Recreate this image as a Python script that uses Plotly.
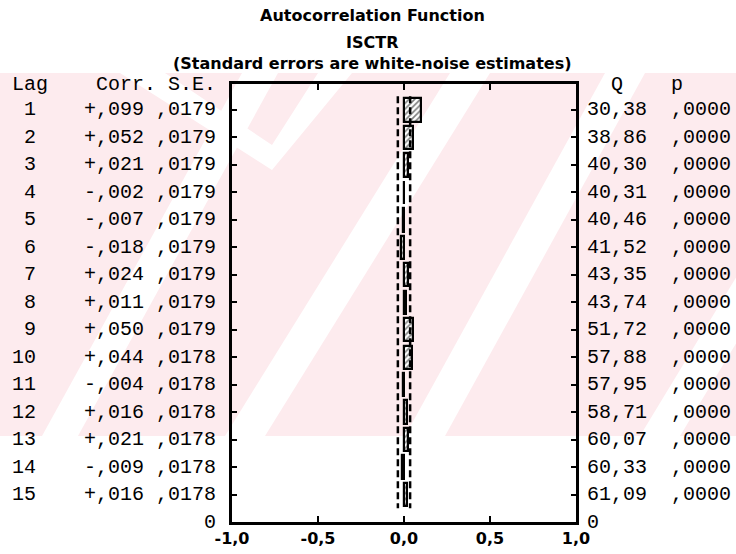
import plotly.graph_objects as go

# ---------------- data ----------------
lags = list(range(1, 16))
corr = [0.099, 0.052, 0.021, -0.002, -0.007, -0.018, 0.024, 0.011,
        0.050, 0.044, -0.004, 0.016, 0.021, -0.009, 0.016]
se = [0.0179] * 9 + [0.0178] * 6
q_stat = [30.38, 38.86, 40.30, 40.31, 40.46, 41.52, 43.35, 43.74,
          51.72, 57.88, 57.95, 58.71, 60.07, 60.33, 61.09]
p_val = [0.0] * 15
x_ticks = [-1.0, -0.5, 0.0, 0.5, 1.0]

title_lines = ["Autocorrelation Function", "ISCTR",
               "(Standard errors are white-noise estimates)"]

NB = "\u00a0"
MONO = "Liberation Mono"
SANS = "DejaVu Sans"


def fmt_corr(c):
    s = f"{abs(c):.3f}"[1:].replace(".", ",")
    return ("+" if c >= 0 else "-") + s


def fmt_dec(v, n):
    s = f"{v:.{n}f}".replace(".", ",")
    return s[1:] if s.startswith("0,") else s


left_rows = [f"{l:>2}    {fmt_corr(c)} {fmt_dec(s, 4)}".replace(" ", NB)
             for l, c, s in zip(lags, corr, se)]
right_rows = [f"{q:.2f}".replace(".", ",") + NB * 2 + fmt_dec(p, 4) for q, p in zip(q_stat, p_val)]

# ---------------- geometry helpers (pixel -> paper) ----------------
W, H = 736, 554
L, R, T, B = 232, 576, 84, 522


def px(x):
    return (x - L) / (R - L)


def py(y):
    return (B - y) / (B - T)


def poly(points):
    return "M " + " L ".join(f"{px(x):.4f},{py(y):.4f}" for x, y in points) + " Z"


fig = go.Figure()

# bars
fig.add_trace(go.Bar(
    x=corr, y=lags, orientation="h", width=0.85, base=0,
    marker=dict(color="white",
                line=dict(color="black", width=2.2),
                pattern=dict(shape="/", fgcolor="black", bgcolor="white",
                             size=4, solidity=0.4)),
    showlegend=False, hoverinfo="skip"))

# confidence limits (+/- 2 SE), drawn as steps around each lag
ys, xp, xn = [], [], []
for l, s in zip(lags, se):
    ys += [l - 0.5, l + 0.5]
    xp += [2 * s, 2 * s]
    xn += [-2 * s, -2 * s]
for xs in (xp, xn):
    fig.add_trace(go.Scatter(x=xs, y=ys, mode="lines",
                             line=dict(color="black", width=2.5, dash="7px,4px"),
                             showlegend=False, hoverinfo="skip"))

# invisible trace on right axis so it renders
fig.add_trace(go.Scatter(x=[0], y=[1], yaxis="y2", mode="markers",
                         marker=dict(opacity=0), showlegend=False, hoverinfo="skip"))

mono_font = dict(family=MONO, size=20, color="black")
ann = []
for l, t in zip(lags, left_rows):
    ann.append(dict(x=px(218), xref="paper", y=l, yref="y", text=t, showarrow=False,
                    xanchor="right", yanchor="middle", font=mono_font))
for l, t in zip(lags, right_rows):
    ann.append(dict(x=px(585), xref="paper", y=l, yref="y", text=t, showarrow=False,
                    xanchor="left", yanchor="middle", font=mono_font))
# bottom "0" labels
ann.append(dict(x=px(218), xref="paper", y=0, yref="paper", text="0", showarrow=False,
                xanchor="right", yanchor="middle", font=mono_font))
ann.append(dict(x=px(585), xref="paper", y=0, yref="paper", text="0", showarrow=False,
                xanchor="left", yanchor="middle", font=mono_font))
# headers
ann.append(dict(x=px(218), xref="paper", y=py(85), yref="paper",
                text="Lag    Corr. S.E.".replace(" ", NB), showarrow=False,
                xanchor="right", yanchor="middle", font=mono_font))
ann.append(dict(x=px(585), xref="paper", y=py(85), yref="paper",
                text="  Q    p".replace(" ", NB), showarrow=False,
                xanchor="left", yanchor="middle", font=mono_font))
# titles
for t, yy in zip(title_lines, [16, 42, 64]):
    ann.append(dict(x=px(372), xref="paper", y=py(yy), yref="paper", text=t,
                    showarrow=False, xanchor="center", yanchor="middle",
                    font=dict(family=SANS, size=16, color="black", weight="bold")))

# watermark (light pink background with white diagonal bands)
PINK = "#fdebee"
shapes = [dict(type="path", xref="paper", yref="paper", layer="below",
               path=poly([(0, 73), (W, 73), (W, 436), (0, 436)]),
               fillcolor=PINK, line=dict(width=0))]
bands = [  # (bottom-center x, top-center x, half width)
    (245, 470, 20), (425, 625, 20), (660, 880, 20), (60, 260, 18)]
for xb, xt, hw in bands:
    shapes.append(dict(type="path", xref="paper", yref="paper", layer="below",
                       path=poly([(xb - hw, 436), (xb + hw, 436), (xt + hw, 73), (xt - hw, 73)]),
                       fillcolor="white", line=dict(width=0)))
# white V near the top
shapes.append(dict(type="path", xref="paper", yref="paper", layer="below",
                   path=poly([(120, 73), (165, 73), (272, 145), (318, 73), (352, 73), (272, 170)]),
                   fillcolor="white", line=dict(width=0)))

fig.update_layout(
    width=W, height=H, autosize=False,
    margin=dict(l=L, r=W - R, t=T, b=H - B, pad=0, autoexpand=False),
    paper_bgcolor="white", plot_bgcolor="rgba(0,0,0,0)",
    showlegend=False, bargap=0,
    annotations=ann, shapes=shapes,
    xaxis=dict(range=[-1, 1], tickvals=x_ticks,
               ticktext=[f"{v:.1f}".replace(".", ",") for v in x_ticks],
               ticks="inside", ticklen=6, tickwidth=2, tickcolor="black",
               showline=True, linewidth=2.5, linecolor="black", mirror="ticks",
               showgrid=False, zeroline=False, automargin=False,
               tickfont=dict(family=SANS, size=16, color="black", weight="bold")),
    yaxis=dict(range=[16, 0.055], tickvals=lags, showticklabels=False,
               ticks="inside", ticklen=5, tickwidth=2, tickcolor="black",
               showline=True, linewidth=2.5, linecolor="black",
               showgrid=False, zeroline=False, automargin=False),
    yaxis2=dict(overlaying="y", side="right", matches="y", tickvals=lags,
                showticklabels=False, ticks="inside", ticklen=5, tickwidth=2,
                tickcolor="black", showline=True, linewidth=2.5, linecolor="black",
                showgrid=False, zeroline=False, automargin=False),
)

fig.write_html("out.html")
